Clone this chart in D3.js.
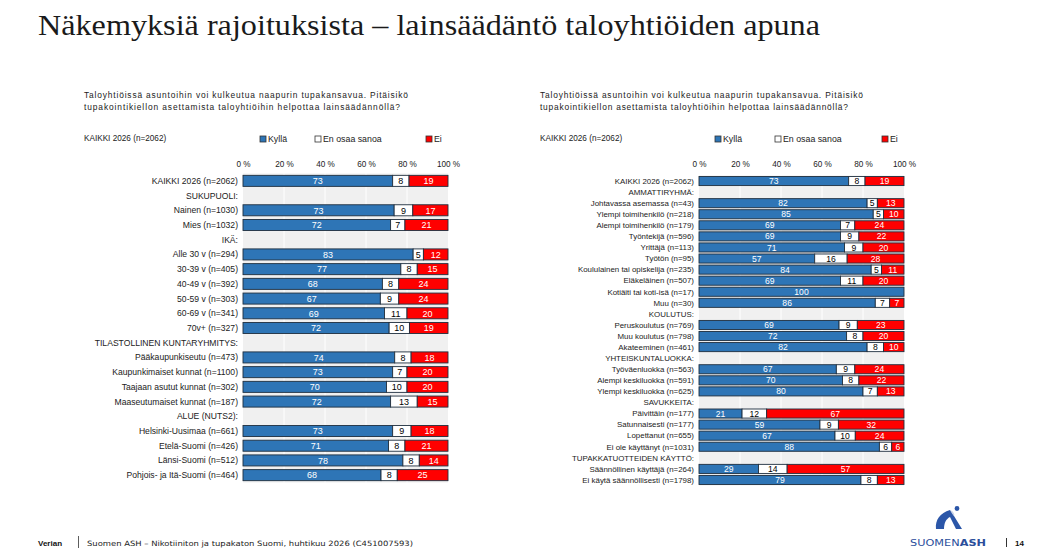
<!DOCTYPE html>
<html><head><meta charset="utf-8">
<script src="https://cdn.jsdelivr.net/npm/d3@7"></script>
<style>
html,body{margin:0;padding:0;background:#fff;}
svg{display:block;font-family:"Liberation Sans",Arial,sans-serif;}
</style></head>
<body>
<svg id="chart" width="1060" height="560"></svg>
<script>
// ---------- DATA ----------
const seriesNames = ["Kyllä", "En osaa sanoa", "Ei"];
const tickValues = [0, 20, 40, 60, 80, 100];
const questionLines = [
  "Taloyhtiöissä asuntoihin voi kulkeutua naapurin tupakansavua. Pitäisikö",
  "tupakointikiellon asettamista taloyhtiöihin helpottaa lainsäädännöllä?"
];
const totalLabel = "KAIKKI 2026 (n=2062)";

// Left panel (null = group header row)
const leftCategories = [
  "KAIKKI 2026 (n=2062)", "SUKUPUOLI:", "Nainen (n=1030)", "Mies (n=1032)", "IKÄ:",
  "Alle 30 v (n=294)", "30-39 v (n=405)", "40-49 v (n=392)", "50-59 v (n=303)",
  "60-69 v (n=341)", "70v+ (n=327)", "TILASTOLLINEN KUNTARYHMITYS:",
  "Pääkaupunkiseutu (n=473)", "Kaupunkimaiset kunnat (n=1100)", "Taajaan asutut kunnat (n=302)",
  "Maaseutumaiset kunnat (n=187)", "ALUE (NUTS2):", "Helsinki-Uusimaa (n=661)",
  "Etelä-Suomi (n=426)", "Länsi-Suomi (n=512)", "Pohjois- ja Itä-Suomi (n=464)"
];
const leftKylla = [73, null, 73, 72, null, 83, 77, 68, 67, 69, 72, null, 74, 73, 70, 72, null, 73, 71, 78, 68];
const leftEos   = [8,  null, 9,  7,  null, 5,  8,  8,  9,  11, 10, null, 8,  7,  10, 13, null, 9,  8,  8,  8];
const leftEi    = [19, null, 17, 21, null, 12, 15, 24, 24, 20, 19, null, 18, 20, 20, 15, null, 18, 21, 14, 25];

// Right panel
const rightCategories = [
  "KAIKKI 2026 (n=2062)", "AMMATTIRYHMÄ:", "Johtavassa asemassa (n=43)", "Ylempi toimihenkilö (n=218)",
  "Alempi toimihenkilö (n=179)", "Työntekijä (n=596)", "Yrittäjä (n=113)", "Työtön (n=95)",
  "Koululainen tai opiskelija (n=235)", "Eläkeläinen (n=507)", "Kotiäiti tai koti-isä (n=17)",
  "Muu (n=30)", "KOULUTUS:", "Peruskoulutus (n=769)", "Muu koulutus (n=798)", "Akateeminen (n=461)",
  "YHTEISKUNTALUOKKA:", "Työväenluokka (n=563)", "Alempi keskiluokka (n=591)", "Ylempi keskiluokka (n=625)",
  "SAVUKKEITA:", "Päivittäin (n=177)", "Satunnaisesti (n=177)", "Lopettanut (n=655)",
  "Ei ole käyttänyt (n=1031)", "TUPAKKATUOTTEIDEN KÄYTTÖ:", "Säännöllinen käyttäjä (n=264)",
  "Ei käytä säännöllisesti (n=1798)"
];
const rightKylla = [73, null, 82, 85, 69, 69, 71, 57, 84, 69, 100, 86, null, 69, 72, 82, null, 67, 70, 80, null, 21, 59, 67, 88, null, 29, 79];
const rightEos   = [8,  null, 5,  5,  7,  9,  9,  16, 5,  11, 0,   7,  null, 9,  8,  8,  null, 9,  8,  7,  null, 12, 9,  10, 6,  null, 14, 8];
const rightEi    = [19, null, 13, 10, 24, 22, 20, 28, 11, 20, 0,   7,  null, 23, 20, 10, null, 24, 22, 13, null, 67, 32, 24, 6,  null, 57, 13];

// ---------- STYLE ----------
const colors = ["#2E75B6", "#FFFFFF", "#FF0000"];
const textColors = ["#FFFFFF", "#000000", "#FFFFFF"];

const svg = d3.select("#chart");

// Title
svg.append("text").attr("x", 38).attr("y", 35)
  .attr("font-family", "'Liberation Serif','Times New Roman',serif")
  .attr("font-size", 29).attr("fill", "#1a1a1a")
  .attr("textLength", 782).attr("lengthAdjust", "spacingAndGlyphs")
  .text("Näkemyksiä rajoituksista – lainsäädäntö taloyhtiöiden apuna");

function drawPanel(o) {
  const g = svg.append("g");
  // question
  questionLines.forEach((t, i) => {
    g.append("text").attr("x", o.textX).attr("y", 98 + i * 11.5)
      .attr("font-size", 8.4).attr("fill", "#222")
      .attr("textLength", o.qWidths[i]).attr("lengthAdjust", "spacing").text(t);
  });
  g.append("text").attr("x", o.textX).attr("y", 141).attr("font-size", 8.2).attr("fill", "#222").text(totalLabel);

  // legend
  seriesNames.forEach((s, i) => {
    const lx = o.legendX[i];
    g.append("rect").attr("x", lx).attr("y", 136).attr("width", 6).attr("height", 6)
      .attr("fill", colors[i]).attr("stroke", "#333").attr("stroke-width", 0.8);
    g.append("text").attr("x", lx + 8).attr("y", 142).attr("font-size", 8.8).attr("fill", "#222").text(s);
  });

  const x = d3.scaleLinear().domain([0, 100]).range([o.x0, o.x1]);
  const y = d3.scaleBand().domain(o.categories).range([o.yTop, o.yBottom]).paddingInner(o.pad).paddingOuter(o.pad / 2);

  // plot background + grid
  g.append("rect").attr("x", x(0)).attr("y", o.yTop).attr("width", x(100) - x(0)).attr("height", o.yBottom - o.yTop)
    .attr("fill", "#F0F0F0");
  g.selectAll(".grid").data(tickValues.slice(1, -1)).join("line")
    .attr("x1", d => x(d)).attr("x2", d => x(d)).attr("y1", o.yTop).attr("y2", o.yBottom)
    .attr("stroke", "#FFFFFF").attr("stroke-width", 1);

  // axis on top
  const axis = d3.axisTop(x).tickValues(tickValues).tickFormat(d => d + " %").tickSize(0).tickPadding(0);
  const ag = g.append("g").attr("transform", `translate(0,${o.tickY})`).call(axis);
  ag.select(".domain").remove();
  ag.selectAll("text").attr("font-size", 8.2).attr("fill", "#222").attr("font-family", "'Liberation Sans',Arial,sans-serif");

  // category labels
  g.selectAll(".cat").data(o.categories).join("text")
    .attr("x", o.labelX).attr("y", d => y(d) + y.bandwidth() / 2)
    .attr("dy", "0.35em").attr("text-anchor", "end")
    .attr("font-size", o.labelSize).attr("fill", "#222").text(d => d);

  // stacked bars
  const rows = o.categories.map((c, i) => ({ cat: c, vals: [o.kylla[i], o.eos[i], o.ei[i]] }))
    .filter(r => r.vals[0] !== null);
  rows.forEach(r => {
    const total = d3.sum(r.vals);
    let cum = 0;
    r.vals.forEach((v, si) => {
      if (!v) return;
      const a = x(cum / total * 100), b = x((cum + v) / total * 100);
      cum += v;
      g.append("rect").attr("x", a).attr("y", y(r.cat)).attr("width", b - a).attr("height", y.bandwidth())
        .attr("fill", colors[si]).attr("stroke", "#1f2f3f").attr("stroke-width", 0.9);
      g.append("text").attr("x", (a + b) / 2).attr("y", y(r.cat) + y.bandwidth() / 2).attr("dy", "0.36em")
        .attr("text-anchor", "middle").attr("font-size", o.valueSize).attr("fill", textColors[si]).text(v);
    });
  });
}

drawPanel({
  textX: 84, qWidths: [324, 316], legendX: [260, 315, 426], x0: 243, x1: 448, tickY: 167,
  yTop: 173.5, yBottom: 482.5, pad: 0.25, labelX: 238, labelSize: 8.6, valueSize: 9,
  categories: leftCategories, kylla: leftKylla, eos: leftEos, ei: leftEi
});
drawPanel({
  textX: 540, qWidths: [323, 308], legendX: [715, 775, 882], x0: 699, x1: 904, tickY: 167,
  yTop: 175.5, yBottom: 485.5, pad: 0.18, labelX: 694, labelSize: 7.9, valueSize: 8.6,
  categories: rightCategories, kylla: rightKylla, eos: rightEos, ei: rightEi
});

// Footer
svg.append("text").attr("x", 38).attr("y", 546).attr("font-size", 8).attr("font-weight", "bold")
  .attr("fill", "#111").text("Verian");
svg.append("line").attr("x1", 78.5).attr("x2", 78.5).attr("y1", 536).attr("y2", 548).attr("stroke", "#333").attr("stroke-width", 0.8);
svg.append("text").attr("x", 87).attr("y", 546).attr("font-size", 7.3).attr("fill", "#222")
  .attr("font-family", "'DejaVu Sans',sans-serif").attr("textLength", 326).attr("lengthAdjust", "spacingAndGlyphs")
  .text("Suomen ASH – Nikotiiniton ja tupakaton Suomi, huhtikuu 2026   (C451007593)");

// Logo
const logo = svg.append("g");
logo.append("path")
  .attr("d", "M950,510 C940,513 935,520 936,529 L944,529 C944,523 946,519 950,517 L956,529 L962,529 L954,516 C953,514 952,512 950,510 Z")
  .attr("fill", "#2B56A8");
logo.append("path")
  .attr("d", "M950,510 C953,511 955,514 954,516 C952,514 951,512 950,510 Z")
  .attr("fill", "#C9D3EA");
logo.append("circle").attr("cx", 957).attr("cy", 508.5).attr("r", 2.4).attr("fill", "#2B56A8");
logo.append("text").attr("x", 910).attr("y", 546).attr("font-size", 9.5).attr("fill", "#2B4E9B")
  .attr("font-family", "'DejaVu Sans',sans-serif").attr("textLength", 76).attr("lengthAdjust", "spacingAndGlyphs")
  .html('SUOMEN<tspan font-weight="bold">ASH</tspan>');
svg.append("line").attr("x1", 1006.5).attr("x2", 1006.5).attr("y1", 538).attr("y2", 547).attr("stroke", "#333").attr("stroke-width", 1);
svg.append("text").attr("x", 1015).attr("y", 546).attr("font-size", 8).attr("font-weight", "bold").attr("fill", "#111").text("14");
</script>
</body></html>
